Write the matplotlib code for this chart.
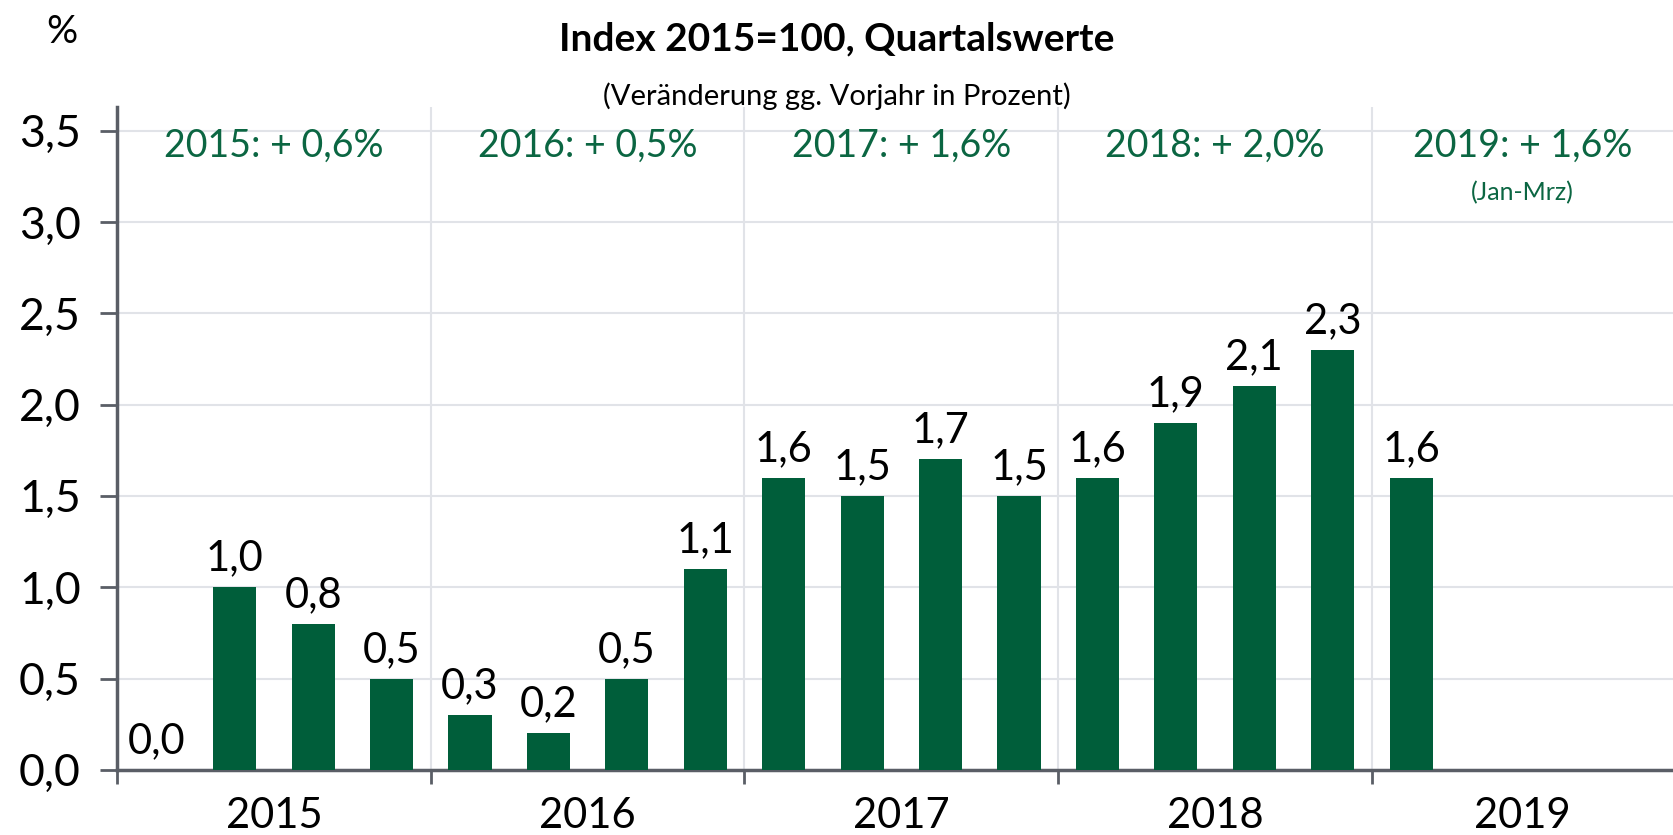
import numpy as np
import matplotlib.pyplot as plt

plt.rcParams['font.family'] = ['Lato', 'DejaVu Sans']

# quarterly values (change vs. prior year, %)
values = [0.0, 1.0, 0.8, 0.5,
          0.3, 0.2, 0.5, 1.1,
          1.6, 1.5, 1.7, 1.5,
          1.6, 1.9, 2.1, 2.3,
          1.6]
years = ["2015", "2016", "2017", "2018", "2019"]
year_notes = ["2015: + 0,6%", "2016: + 0,5%", "2017: + 1,6%", "2018: + 2,0%", "2019: + 1,6%"]
yticks = [0.0, 0.5, 1.0, 1.5, 2.0, 2.5, 3.0, 3.5]

GREEN = "#005E3A"
NOTE_GREEN = "#0B6642"
GRID = "#E1E3E8"
AXIS = "#5A5E66"


def fmt(v):
    return f"{v:.1f}".replace(".", ",")


def main():
    fig = plt.figure(figsize=(16.73, 8.35), dpi=100)
    ax = fig.add_axes([0.070, 0.078, 0.930, 0.794])

    x = np.arange(len(values))
    ax.bar(x, values, width=0.55, color=GREEN, zorder=3)
    for xi, v in zip(x, values):
        ax.annotate(fmt(v), (xi, v), xytext=(0, 7), textcoords="offset points",
                    ha="center", va="bottom", fontsize=30, color="black")

    xmax = 19.34
    ax.set_xlim(-0.5, xmax)
    ax.set_ylim(0, 3.63)

    # year groups
    bounds = [-0.5 + 4 * i for i in range(len(years))] + [xmax]
    for b in bounds[1:-1]:
        ax.axvline(b, color=GRID, lw=1.5, zorder=1)
    ax.set_xticks(bounds[:-1])
    ax.set_xticklabels([])
    ax.tick_params(axis="x", direction="out", length=10, width=2, color=AXIS)
    for i, yr in enumerate(years):
        c = (bounds[i] + bounds[i + 1]) / 2
        ax.text(c, -0.15, yr, ha="center", va="top", fontsize=30)
        ax.text(c, 3.42, year_notes[i], ha="center", va="center",
                fontsize=27, color=NOTE_GREEN)
    ax.text((bounds[-2] + bounds[-1]) / 2, 3.16, "(Jan-Mrz)", ha="center",
            va="center", fontsize=18, color=NOTE_GREEN)

    ax.set_yticks(yticks)
    ax.set_yticklabels([fmt(t) for t in yticks], fontsize=32)
    ax.tick_params(axis="y", direction="out", length=12, width=2, color=AXIS, pad=14)
    ax.yaxis.grid(True, color=GRID, lw=1.5, zorder=0)
    ax.set_axisbelow(True)

    for s in ["top", "right"]:
        ax.spines[s].set_visible(False)
    for s in ["left", "bottom"]:
        ax.spines[s].set_color(AXIS)
        ax.spines[s].set_linewidth(2.5)

    fig.text(0.5, 0.953, "Index 2015=100, Quartalswerte", ha="center", va="center",
             fontsize=28, fontweight="bold")
    fig.text(0.5, 0.885, "(Veränderung gg. Vorjahr in Prozent)", ha="center",
             va="center", fontsize=21)
    fig.text(0.037, 0.962, "%", ha="center", va="center", fontsize=28)

    fig.savefig("out.png", dpi=100)
    plt.close(fig)


if __name__ == "__main__":
    main()
